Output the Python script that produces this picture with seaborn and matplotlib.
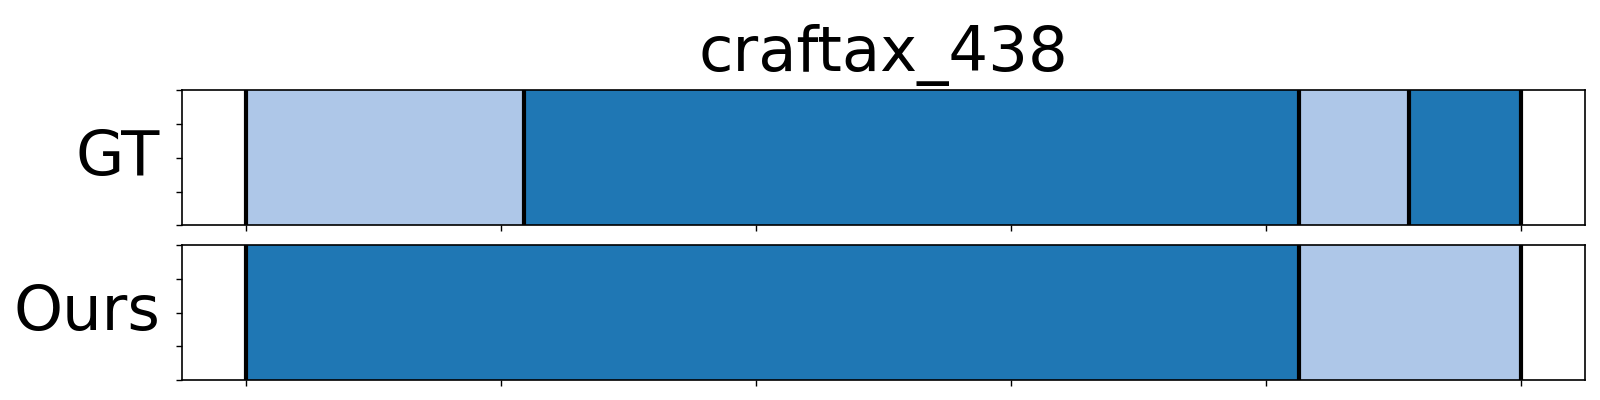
import matplotlib
matplotlib.use("Agg")
import matplotlib.pyplot as plt
import seaborn as sns

# segment data (frame index boundaries, label id per segment)
total_len = 500
gt_bounds = [0, 109, 413, 456, 500]
gt_labels = [1, 0, 1, 0]
ours_bounds = [0, 413, 500]
ours_labels = [0, 1]
row_names = ["GT", "Ours"]
title = "craftax_438"


def plot_segments(ax, bounds, labels, palette):
    lefts = bounds[:-1]
    widths = [b - a for a, b in zip(bounds[:-1], bounds[1:])]
    colors = [palette[k] for k in labels]
    ax.barh(0.5, widths, left=lefts, height=1.0, color=colors, edgecolor="none")
    for b in bounds:
        ax.axvline(b, color="black", linewidth=3)
    ax.set_ylim(0, 1)


def main():
    sns.set_style("ticks", {"axes.edgecolor": "black", "xtick.color": "black",
                            "ytick.color": "black", "text.color": "black",
                            "axes.labelcolor": "black"})
    plt.rcParams["font.family"] = ["DejaVu Sans"]
    palette = sns.color_palette("tab20")

    fig, axes = plt.subplots(2, 1, figsize=(16, 4), dpi=100, sharex=True)
    fig.subplots_adjust(left=0.1136, right=0.9906, top=0.774, bottom=0.05, hspace=0.148)

    plot_segments(axes[0], gt_bounds, gt_labels, palette)
    plot_segments(axes[1], ours_bounds, ours_labels, palette)

    for ax, name in zip(axes, row_names):
        ax.set_ylabel(name, fontsize=45, rotation=0, ha="right", va="center",
                      labelpad=8, color="black")
        ax.set_yticks([0, 0.25, 0.5, 0.75, 1.0])
        ax.set_yticklabels([])
        ax.set_xticks(range(0, total_len + 1, 100))
        ax.tick_params(labelbottom=False, length=4, width=1)
        for s in ax.spines.values():
            s.set_linewidth(1.2)
    axes[0].set_xlim(-0.05 * total_len, 1.05 * total_len)
    axes[0].set_title(title, fontsize=45, pad=14, color="black")

    fig.savefig("out.png", dpi=100)


if __name__ == "__main__":
    main()
